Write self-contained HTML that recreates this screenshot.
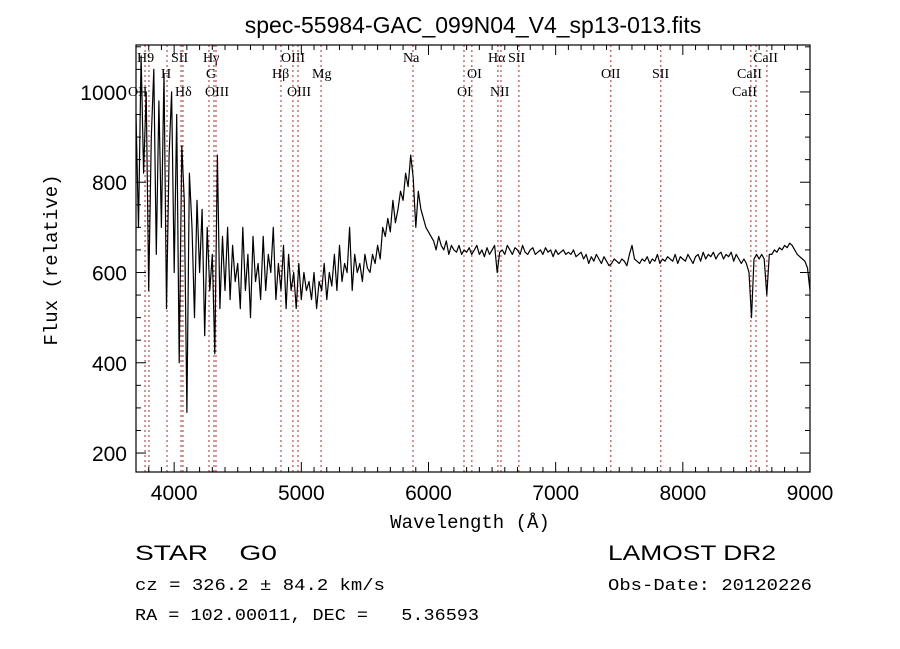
<!DOCTYPE html>
<html><head><meta charset="utf-8"><style>
html,body{margin:0;padding:0;background:#fff;}
svg{display:block;}
text{fill:#000;white-space:pre;}
.mono{font-family:"Liberation Mono",monospace;}
.sans{font-family:"Liberation Sans",sans-serif;}
.serif{font-family:"Liberation Serif",serif;font-size:14px;}
</style></head><body>
<svg id="chart" width="900" height="649" viewBox="0 0 900 649">
<text class="sans" x="473" y="33" font-size="23" text-anchor="middle">spec-55984-GAC_099N04_V4_sp13-013.fits</text>
<g id="lines"></g>
<g id="spec"></g>
<rect x="136" y="45" width="674" height="427" fill="none" stroke="#000" stroke-width="1.2"/>
<g id="ticks"></g>
<text class="mono" x="470" y="528" font-size="19" text-anchor="middle">Wavelength (Å)</text>
<text class="mono" x="0" y="0" font-size="19" text-anchor="middle" transform="translate(57,260) rotate(-90)">Flux (relative)</text>
<text class="sans" x="135" y="560" font-size="21" textLength="142" lengthAdjust="spacingAndGlyphs">STAR    G0</text>
<text class="sans" x="608" y="560" font-size="21" textLength="168" lengthAdjust="spacingAndGlyphs">LAMOST DR2</text>
<text class="mono" x="135" y="590" font-size="17" textLength="250" lengthAdjust="spacingAndGlyphs">cz = 326.2 ± 84.2 km/s</text>
<text class="mono" x="608" y="590" font-size="17" textLength="204" lengthAdjust="spacingAndGlyphs">Obs-Date: 20120226</text>
<text class="mono" x="135" y="620" font-size="17" textLength="344" lengthAdjust="spacingAndGlyphs">RA = 102.00011, DEC =   5.36593</text>
</svg>
<script>
const xTicks=[4000,5000,6000,7000,8000,9000];
const yTicks=[200,400,600,800,1000];
const lineWaves=[3771,3802,3944,4054,4069,4274,4313,4329,4840,4934,4974,5155,5878,6279,6341,6546,6570,6711,7434,7827,8535,8575,8661];
const lineNames=["OII","H9","H","SII","Hδ","G","Hγ","OIII","Hβ","OIII","OIII","Mg","Na","OI","OI","Hα","NII","SII","OII","SII","CaII","CaII","CaII"];
const lineLabelX=[128,137,161,171,175,206,203,205,272,281,287,312,403,457,467,488,490,508,601,652,732,737,753];
const lineRow=[3,1,2,1,3,2,1,3,2,1,3,2,1,3,2,1,3,1,2,2,3,2,1];
const fluxStart=3700, fluxStep=20;
const flux=[
950,700,1080,820,1000,560,900,1050,640,980,
700,1040,520,860,1000,600,950,400,880,760,
290,820,700,500,760,600,740,460,700,560,
640,420,860,520,680,560,700,540,660,580,
620,520,700,560,640,500,680,580,620,540,
680,560,640,600,700,540,620,560,660,520,
640,560,600,520,620,540,600,560,580,540,
600,520,580,560,620,540,600,570,640,560,
660,580,620,600,700,560,640,600,620,580,
640,610,600,640,620,660,630,700,680,720,
690,760,710,740,780,760,820,790,860,810,
700,780,740,720,700,690,680,670,650,680,
660,650,670,640,660,650,645,660,640,650,
645,655,640,650,660,640,650,635,655,640,
650,660,600,645,650,640,660,650,640,655,
650,640,660,645,640,650,655,640,645,650,
640,655,645,650,635,650,640,645,650,640,
645,640,650,635,640,645,630,640,620,635,
625,640,630,620,635,625,615,620,630,625,
620,630,625,615,640,660,630,625,620,630,
625,635,620,630,625,640,620,630,625,635,
630,625,640,620,635,630,625,640,630,620,
635,640,625,645,630,640,635,645,630,640,
645,630,640,635,645,625,640,630,620,630,
620,600,500,630,640,630,640,630,550,640,
640,650,645,655,650,660,655,665,660,650,
640,635,630,625,610,560];
const NS="http://www.w3.org/2000/svg";
const X0=136,X1=810,Y0=45,Y1=472,XMIN=3700,XMAX=9000,YMIN=158,YMAX=1104;
function sx(w){return X0+(w-XMIN)/(XMAX-XMIN)*(X1-X0);}
function sy(f){return Y0+(YMAX-f)/(YMAX-YMIN)*(Y1-Y0);}
function mk(tag,attrs,parent){const e=document.createElementNS(NS,tag);for(const k in attrs)e.setAttribute(k,attrs[k]);parent.appendChild(e);return e;}
const gL=document.getElementById('lines');
lineWaves.forEach((w,i)=>{
  const x=sx(w);
  const l=mk('line',{x1:x,x2:x,y1:Y0,y2:Y1,stroke:'#a03030','stroke-width':1,'stroke-dasharray':'2,3'},gL);
  
  
  const t=mk('text',{x:lineLabelX[i],y:[0,62,78,96][lineRow[i]],class:'serif'},gL);
  t.textContent=lineNames[i];
  
  
});
const gS=document.getElementById('spec');
let d='';
flux.forEach((f,i)=>{const x=sx(fluxStart+i*fluxStep),y=sy(f);d+=(i?'L':'M')+x.toFixed(1)+','+y.toFixed(1);});
const p=mk('path',{d:d,fill:'none',stroke:'#000','stroke-width':1.2,'stroke-linejoin':'round'},gS);


const gT=document.getElementById('ticks');
for(let w=3800;w<=9000;w+=100){
  const x=sx(w),maj=w%1000===0,len=maj?10:5;
  mk('line',{x1:x,x2:x,y1:Y1,y2:Y1-len,stroke:'#000','stroke-width':1},gT);
  mk('line',{x1:x,x2:x,y1:Y0,y2:Y0+len,stroke:'#000','stroke-width':1},gT);
}
xTicks.forEach(w=>{
  const t=mk('text',{x:sx(w),y:500,class:'sans','font-size':21,'text-anchor':'middle'},gT);
  t.textContent=w;
  
  
});
for(let f=200;f<=1100;f+=50){
  const y=sy(f),maj=f%200===0,len=maj?10:5;
  mk('line',{x1:X0,x2:X0+len,y1:y,y2:y,stroke:'#000','stroke-width':1},gT);
  mk('line',{x1:X1,x2:X1-len,y1:y,y2:y,stroke:'#000','stroke-width':1},gT);
}
yTicks.forEach(f=>{
  const t=mk('text',{x:127,y:sy(f)+8,class:'sans','font-size':21,'text-anchor':'end'},gT);
  t.textContent=f;
  
  
});
</script>
</body></html>
